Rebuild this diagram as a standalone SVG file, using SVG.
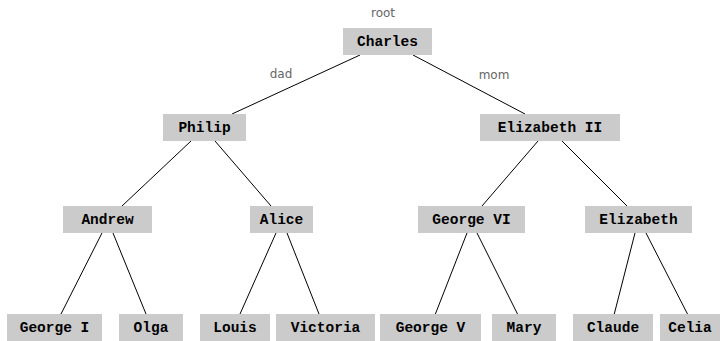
<svg xmlns="http://www.w3.org/2000/svg" width="726" height="341" viewBox="0 0 726 341">
<style>
.box{fill:#cbcbcb;stroke:none}
.nt{font-family:"Liberation Mono","Courier New",monospace;font-weight:bold;font-size:14.5px;fill:#000;text-anchor:middle}
.lbl{font-family:"DejaVu Sans","Noto Sans",sans-serif;font-size:12px;fill:#666;text-anchor:middle}
.edge{stroke:#000;stroke-width:1;fill:none}
</style>
<rect width="726" height="341" fill="#fff"/>
<g id="connectors">
<line class="edge" x1="360" y1="55" x2="232" y2="114"/>
<line class="edge" x1="413" y1="55" x2="525" y2="114"/>
<line class="edge" x1="191" y1="141" x2="122" y2="206"/>
<line class="edge" x1="215" y1="141" x2="271" y2="206"/>
<line class="edge" x1="538" y1="141" x2="482" y2="206"/>
<line class="edge" x1="562" y1="141" x2="627" y2="206"/>
<line class="edge" x1="102" y1="233" x2="61" y2="314"/>
<line class="edge" x1="113" y1="233" x2="146" y2="314"/>
<line class="edge" x1="276" y1="233" x2="240" y2="314"/>
<line class="edge" x1="287" y1="233" x2="319" y2="314"/>
<line class="edge" x1="467" y1="233" x2="435" y2="315"/>
<line class="edge" x1="477" y1="233" x2="518" y2="315"/>
<line class="edge" x1="635" y1="233" x2="614" y2="315"/>
<line class="edge" x1="646" y1="233" x2="688" y2="315"/>
<text class="lbl" x="281" y="78">dad</text>
<text class="lbl" x="494" y="79">mom</text>
</g>
<text class="lbl" x="383" y="17">root</text>
<g id="charles"><rect class="box" x="343" y="28" width="89" height="27"/><text class="nt" x="387.5" y="46">Charles</text></g>
<g id="philip"><rect class="box" x="163" y="114" width="83" height="27"/><text class="nt" x="204.5" y="132">Philip</text></g>
<g id="elizabeth2"><rect class="box" x="480" y="114" width="140" height="27"/><text class="nt" x="550" y="132">Elizabeth II</text></g>
<g id="andrew"><rect class="box" x="63" y="206" width="89" height="27"/><text class="nt" x="107.5" y="224">Andrew</text></g>
<g id="alice"><rect class="box" x="250" y="206" width="63" height="27"/><text class="nt" x="281.5" y="224">Alice</text></g>
<g id="george6"><rect class="box" x="418" y="206" width="107" height="27"/><text class="nt" x="471.5" y="224">George VI</text></g>
<g id="elizabeth"><rect class="box" x="585" y="206" width="107" height="27"/><text class="nt" x="638.5" y="224">Elizabeth</text></g>
<g id="george1"><rect class="box" x="7" y="314" width="95" height="27"/><text class="nt" x="54.5" y="332">George I</text></g>
<g id="olga"><rect class="box" x="119" y="314" width="64" height="27"/><text class="nt" x="151" y="332">Olga</text></g>
<g id="louis"><rect class="box" x="200" y="314" width="70" height="27"/><text class="nt" x="235" y="332">Louis</text></g>
<g id="victoria"><rect class="box" x="276" y="314" width="99" height="27"/><text class="nt" x="325.5" y="332">Victoria</text></g>
<g id="george5"><rect class="box" x="380" y="314" width="101" height="27"/><text class="nt" x="430.5" y="332">George V</text></g>
<g id="mary"><rect class="box" x="492" y="314" width="64" height="27"/><text class="nt" x="524" y="332">Mary</text></g>
<g id="claude"><rect class="box" x="573" y="314" width="80" height="27"/><text class="nt" x="613" y="332">Claude</text></g>
<g id="celia"><rect class="box" x="660" y="314" width="60" height="27"/><text class="nt" x="690" y="332">Celia</text></g>
</svg>
